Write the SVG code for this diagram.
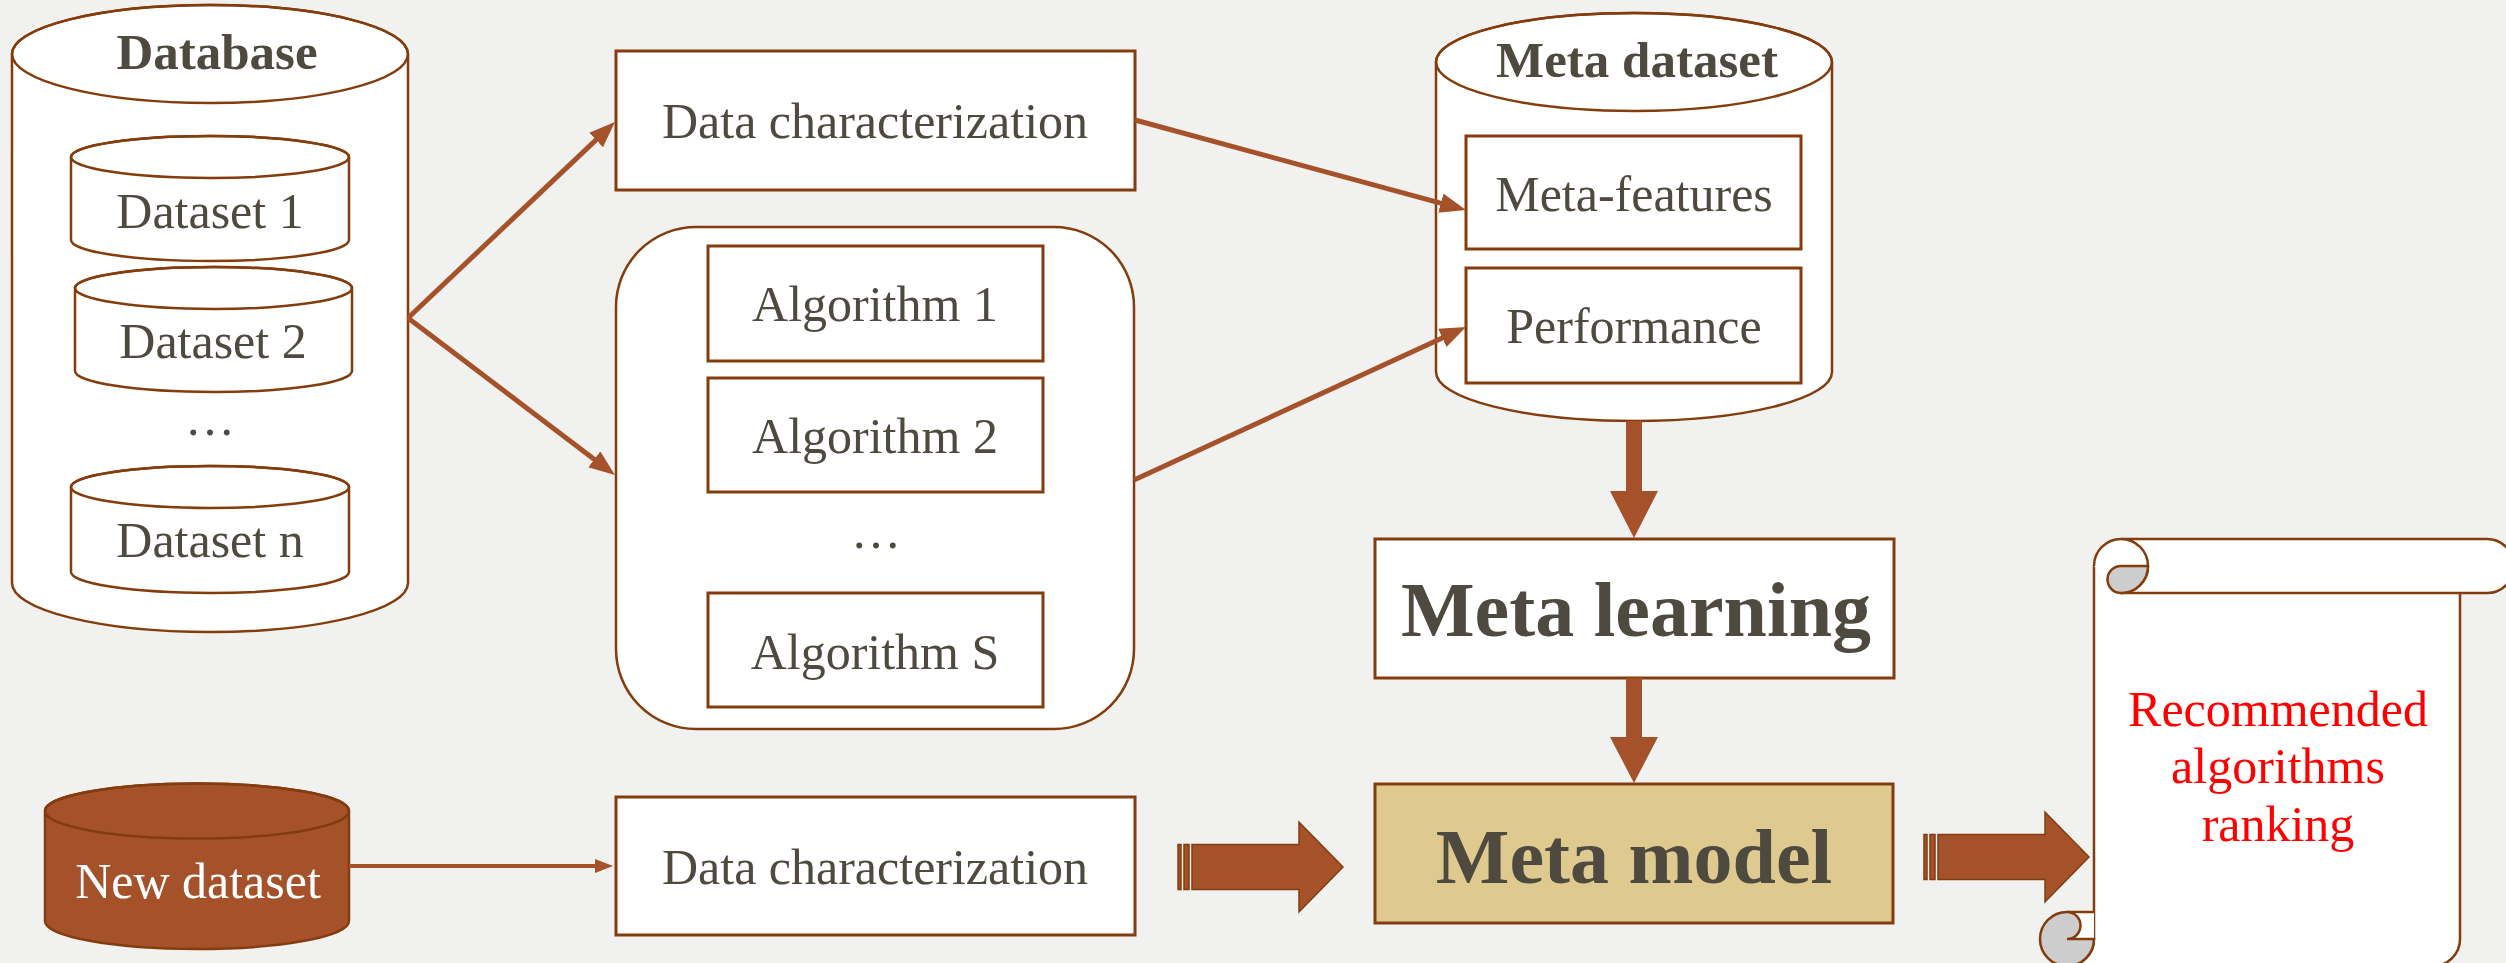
<svg xmlns="http://www.w3.org/2000/svg" width="2506" height="963" viewBox="0 0 2506 963">
<defs>
<style>
.bx{fill:#fff;stroke:#843C0C;stroke-width:3}
.ln{fill:none;stroke:#843C0C;stroke-width:2.5}
.wf{fill:#fff;stroke:#843C0C;stroke-width:2.5}
.t{font-family:"Liberation Serif","Times New Roman",serif;font-size:50px;fill:#4F4A40;text-anchor:middle}
.b{font-weight:bold;font-size:51px}
.xl{font-size:78px}
.red{fill:#FF0000}
.wt{fill:#FFFFFF}
.con{fill:none;stroke:#A5522A;stroke-width:5}
.con2{fill:none;stroke:#A5522A;stroke-width:4}
.thk{fill:#A5522A;stroke:none}
.blk{fill:#A5522A;stroke:#843C0C;stroke-width:1.5}
.gr{fill:#CDCDCD;stroke:#843C0C;stroke-width:2.5}
</style>
<marker id="ah" markerUnits="userSpaceOnUse" markerWidth="28" markerHeight="22" refX="16" refY="10" orient="auto"><path d="M0,0 L26,10 L0,20 Z" fill="#A5522A"/></marker>
<marker id="ahs" markerUnits="userSpaceOnUse" markerWidth="20" markerHeight="16" refX="10" refY="7" orient="auto"><path d="M0,0 L18,7 L0,14 Z" fill="#A5522A"/></marker>
</defs>
<rect x="0" y="0" width="2506" height="963" fill="#F1F1F0"/>

<g id="database">
<path class="wf" d="M12,54 A198,49 0 0 1 408,54 L408,583 A198,49 0 0 1 12,583 Z"/>
<ellipse class="ln" cx="210" cy="54" rx="198" ry="49"/>
<text class="t b" x="217" y="69">Database</text>
<text class="t" x="210" y="435">…</text>
</g>
<g id="dataset1">
<path class="wf" d="M71,157 A139,21 0 0 1 349,157 L349,240 A139,21 0 0 1 71,240 Z"/>
<ellipse class="ln" cx="210" cy="157" rx="139" ry="21"/>
<text class="t" x="210" y="228">Dataset 1</text>
</g>
<g id="dataset2">
<path class="wf" d="M75,288 A138.5,21 0 0 1 352,288 L352,371 A138.5,21 0 0 1 75,371 Z"/>
<ellipse class="ln" cx="213.5" cy="288" rx="138.5" ry="21"/>
<text class="t" x="213" y="358">Dataset 2</text>
</g>
<g id="datasetn">
<path class="wf" d="M71,487 A139,21 0 0 1 349,487 L349,572 A139,21 0 0 1 71,572 Z"/>
<ellipse class="ln" cx="210" cy="487" rx="139" ry="21"/>
<text class="t" x="210" y="557">Dataset n</text>
</g>

<g id="datachar-top">
<rect class="bx" x="616" y="51" width="519" height="139"/>
<text class="t" x="875" y="138">Data characterization</text>
</g>

<g id="algorithms">
<rect class="wf" x="616" y="227" width="518" height="502" rx="80" ry="80"/>
<text class="t" x="876" y="548">…</text>
</g>
<g id="algorithm1">
<rect class="bx" x="708" y="246" width="335" height="115"/>
<text class="t" x="875" y="321">Algorithm 1</text>
</g>
<g id="algorithm2">
<rect class="bx" x="708" y="378" width="335" height="114"/>
<text class="t" x="875" y="453">Algorithm 2</text>
</g>
<g id="algorithmS">
<rect class="bx" x="708" y="593" width="335" height="114"/>
<text class="t" x="875" y="669">Algorithm S</text>
</g>

<g id="meta-dataset">
<path class="wf" d="M1436,62 A198,49 0 0 1 1832,62 L1832,372 A198,49 0 0 1 1436,372 Z"/>
<ellipse class="ln" cx="1634" cy="62" rx="198" ry="49"/>
<text class="t b" x="1637" y="77">Meta dataset</text>
</g>
<g id="meta-features">
<rect class="bx" x="1466" y="136" width="335" height="113"/>
<text class="t" x="1634" y="211">Meta-features</text>
</g>
<g id="performance">
<rect class="bx" x="1466" y="268" width="335" height="115"/>
<text class="t" x="1634" y="343">Performance</text>
</g>

<g id="meta-learning">
<rect class="bx" x="1375" y="539" width="519" height="139"/>
<text class="t b xl" x="1636" y="636">Meta learning</text>
</g>
<g id="meta-model">
<rect class="bx" x="1375" y="784" width="518" height="139" style="fill:#DECA8E"/>
<text class="t b xl" x="1634" y="883">Meta model</text>
</g>

<g id="new-dataset">
<path d="M45,811 A152,27.5 0 0 1 349,811 L349,921 A152,28 0 0 1 45,921 Z" fill="#A5522A" stroke="#843C0C" stroke-width="2.5"/>
<ellipse cx="197" cy="811" rx="152" ry="27.5" fill="none" stroke="#843C0C" stroke-width="2.5"/>
<text class="t wt" x="198" y="898">New dataset</text>
</g>

<g id="datachar-bottom">
<rect class="bx" x="616" y="797" width="519" height="138"/>
<text class="t" x="875" y="884">Data characterization</text>
</g>

<g id="scroll">
<path class="wf" d="M2094,566 L2094,939 A27,27 0 0 1 2067,966 L2433,966 A27,27 0 0 0 2460,939 L2460,593"/>
<path class="wf" d="M2121,539 L2487,539 A27,27 0 0 1 2487,593 L2121,593"/>
<path class="wf" d="M2094,566 A27,27 0 0 1 2121,539 A27,27 0 0 1 2148,566 A27,27 0 0 1 2121,593"/>
<path class="gr" d="M2121,566 A13.5,13.5 0 0 0 2121,593 A27,27 0 0 0 2148,566 Z"/>
<rect x="2067" y="912" width="27" height="27" fill="#fff"/>
<path class="ln" d="M2067,912 L2094,912"/>
<path class="gr" d="M2094,939 A27,27 0 0 1 2067,966 A27,27 0 0 1 2040,939 A27,27 0 0 1 2067,912 A13.5,13.5 0 0 1 2067,939 Z"/>
<text class="t red" x="2278" y="726">Recommended<tspan x="2278" y="783">algorithms</tspan><tspan x="2278" y="841">ranking</tspan></text>
</g>

<g id="connectors">
<line class="con" x1="408" y1="318" x2="607.7" y2="128.9" marker-end="url(#ah)"/>
<line class="con" x1="408" y1="318" x2="607" y2="469" marker-end="url(#ah)"/>
<line class="con" x1="1135" y1="120" x2="1456.3" y2="207.4" marker-end="url(#ah)"/>
<line class="con" x1="1134" y1="480" x2="1456.9" y2="331.2" marker-end="url(#ah)"/>
<line class="con2" x1="349" y1="866" x2="605" y2="866" marker-end="url(#ahs)"/>
<polygon class="thk" points="1626,421 1642,421 1642,491 1658,491 1634,538 1610,491 1626,491"/>
<polygon class="thk" points="1626,678 1642,678 1642,737 1658,737 1634,783 1610,737 1626,737"/>
<rect class="blk" x="1178" y="844.5" width="3" height="45"/>
<rect class="blk" x="1184" y="844.5" width="5" height="45"/>
<polygon class="blk" points="1192,844.5 1299,844.5 1299,822 1343,867 1299,912 1299,889.5 1192,889.5"/>
<rect class="blk" x="1924" y="834.5" width="3" height="45"/>
<rect class="blk" x="1930" y="834.5" width="5" height="45"/>
<polygon class="blk" points="1938,834.5 2045,834.5 2045,812 2089,857 2045,902 2045,879.5 1938,879.5"/>
</g>
</svg>
